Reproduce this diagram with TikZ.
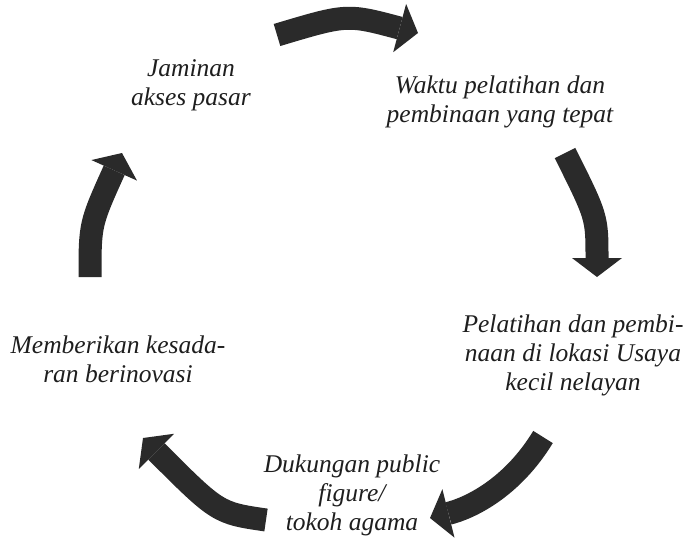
\documentclass[tikz,border=0pt]{standalone}
\usepackage{fontspec}
\setmainfont{Liberation Serif}
\usetikzlibrary{arrows.meta}
\definecolor{ink}{HTML}{2A2A2A}
\definecolor{txt}{HTML}{1E1E1E}
\tikzset{
  band/.style={draw=ink, line width=23pt, line cap=butt,
    -{Triangle[width=50pt,length=19pt,line width=0pt]}},
  label/.style={font=\itshape\fontsize{25.5}{29}\selectfont, text=txt,
    align=center, inner sep=0pt, anchor=base},
}
\begin{document}
\begin{tikzpicture}[x=1pt,y=-1pt]
\useasboundingbox (0,0) rectangle (691,538);

% labels of the cycle steps (anchored at the baseline of the last line)
\node[label] (jaminan) at (191,105) {Jaminan\\akses pasar};
\node[label] (waktu) at (500,122) {Waktu pelatihan dan\\pembinaan yang tepat};
\node[label] (lokasi) at (573,390) {Pelatihan dan pembi-\\naan di lokasi Usaya\\kecil nelayan};
\node[label] (kesadaran) at (118,382) {Memberikan kesada-\\ran berinovasi};
\node[label] (dukungan) at (352,530) {Dukungan public\\figure/\\tokoh agama};

% ends of the curved arrows
\coordinate (t1) at (277,35);  \coordinate (h1) at (418,33);
\coordinate (t2) at (565,153); \coordinate (h2) at (597,277);
\coordinate (t3) at (543,437); \coordinate (h3) at (430,518);
\coordinate (t4) at (266,520); \coordinate (h4) at (143,438);
\coordinate (t5) at (90,277);  \coordinate (h5) at (122,153);

\draw[band] (t1) .. controls (347,14) .. (h1);
\draw[band] (t2) .. controls (597,217) .. (h2);
\draw[band] (t3) .. controls (512,488) and (470,508) .. (h3);
\draw[band] (t4) .. controls (218,513) .. (h4);
\draw[band] (t5) .. controls (90,224) .. (h5);
\end{tikzpicture}
\end{document}
